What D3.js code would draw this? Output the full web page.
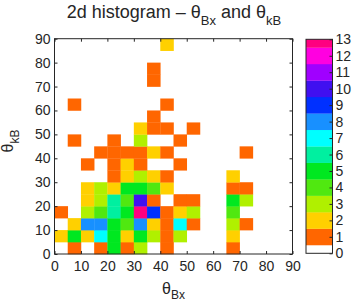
<!DOCTYPE html>
<html><head><meta charset="utf-8">
<script src="https://cdn.jsdelivr.net/npm/d3@7"></script>
<style>body{margin:0;background:#fff}svg{display:block}text{font-family:"Liberation Sans",Arial,sans-serif;fill:#262626}</style>
</head><body>
<script>
// bin edges (degrees)
const xEdges = d3.range(0, 95, 5);   // θBx
const yEdges = d3.range(0, 95, 5);   // θkB
const xTicks = d3.range(0, 100, 10);
const yTicks = d3.range(0, 100, 10);
const cbTicks = d3.range(0, 14);
// counts[row = θkB bin][col = θBx bin]
const counts = [
  [0,1,0,1,5,1,3,0,1,0,0,0,0,1,0,0,0,0],
  [2,5,2,7,5,2,5,3,1,3,0,0,0,2,0,0,0,0],
  [0,2,8,8,5,4,8,2,1,7,1,0,0,3,1,0,0,0],
  [1,0,3,4,6,5,13,9,1,2,3,0,0,4,0,0,0,0],
  [0,0,2,3,6,4,10,1,0,1,1,0,0,5,3,0,0,0],
  [0,0,2,3,2,5,5,4,2,0,0,0,0,1,1,0,0,0],
  [0,0,0,0,1,2,3,2,1,0,0,0,0,2,0,0,0,0],
  [0,0,1,0,1,2,1,0,0,1,0,0,0,0,0,0,0,0],
  [0,0,0,1,1,1,1,2,1,0,0,0,0,0,1,0,0,0],
  [0,1,0,0,1,0,3,0,0,1,0,0,0,0,0,0,0,0],
  [0,0,0,0,0,0,2,1,1,0,1,0,0,0,0,0,0,0],
  [0,0,0,0,0,0,0,1,0,0,0,0,0,0,0,0,0,0],
  [0,1,0,0,0,0,0,0,1,0,0,0,0,0,0,0,0,0],
  [0,0,0,0,0,0,0,0,0,0,0,0,0,0,0,0,0,0],
  [0,0,0,0,0,0,0,1,0,0,0,0,0,0,0,0,0,0],
  [0,0,0,0,0,0,0,1,0,0,0,0,0,0,0,0,0,0],
  [0,0,0,0,0,0,0,0,0,0,0,0,0,0,0,0,0,0],
  [0,0,0,0,0,0,0,0,2,0,0,0,0,0,0,0,0,0]
];
const palette = ["#ffffff","#ff6600","#ffd000","#b0f000","#50e810","#00e820","#00f0a0",
  "#00ffff","#1890ff","#0030ff","#4010f0","#a000ff","#ff00e0","#ff0080"];

const W = 354, H = 303;
const svg = d3.select("body").append("svg").attr("width", W).attr("height", H);
const L = 54.5, R = 292.5, T = 38.7, B = 254;
const x = d3.scaleLinear().domain([0, 90]).range([L, R]);
const y = d3.scaleLinear().domain([0, 90]).range([B, T]);
const color = d3.scaleOrdinal().domain(d3.range(14)).range(palette);

const cells = [];
counts.forEach((row, r) => row.forEach((v, c) => { if (v > 0) cells.push({x0: xEdges[c], x1: xEdges[c+1], y0: yEdges[r], y1: yEdges[r+1], v}); }));
svg.append("g").selectAll("rect").data(cells).join("rect")
  .attr("x", d => x(d.x0)).attr("y", d => y(d.y1))
  .attr("width", d => x(d.x1) - x(d.x0) + 0.3).attr("height", d => y(d.y0) - y(d.y1) + 0.3)
  .attr("fill", d => color(d.v));

const tl = 3;
function styleAxis(g){ g.select(".domain").remove(); g.selectAll("line").attr("stroke","#262626"); g.selectAll("text").style("font-size","14px").attr("fill","#262626"); }
svg.append("g").attr("transform", `translate(0,${B})`)
  .call(d3.axisBottom(x).tickValues(xTicks).tickSizeInner(-tl).tickSizeOuter(0).tickPadding(7))
  .call(styleAxis);
svg.append("g").attr("transform", `translate(0,${T})`)
  .call(d3.axisTop(x).tickValues(xTicks).tickSizeInner(-tl).tickSizeOuter(0).tickFormat(""))
  .call(styleAxis);
svg.append("g").attr("transform", `translate(${L},0)`)
  .call(d3.axisLeft(y).tickValues(yTicks).tickSizeInner(-tl).tickSizeOuter(0).tickPadding(4))
  .call(styleAxis);
svg.append("g").attr("transform", `translate(${R},0)`)
  .call(d3.axisRight(y).tickValues(yTicks).tickSizeInner(-tl).tickSizeOuter(0).tickFormat(""))
  .call(styleAxis);
svg.append("rect").attr("x", L).attr("y", T).attr("width", R - L).attr("height", B - T)
  .attr("fill", "none").attr("stroke", "#262626").attr("stroke-width", 1);

// colorbar
const cL = 306, cR = 332.5, cT = 39.3, cB = 253.3;
const cy = d3.scaleLinear().domain([0, 13]).range([cB, cT]);
svg.append("g").selectAll("rect").data(cbTicks).join("rect")
  .attr("x", cL).attr("width", cR - cL)
  .attr("y", d => cy(Math.min(13, d + 0.5)))
  .attr("height", d => cy(Math.max(0, d - 0.5)) - cy(Math.min(13, d + 0.5)) + 0.2)
  .attr("fill", d => color(d));
svg.append("g").attr("transform", `translate(${cR},0)`)
  .call(d3.axisRight(cy).tickValues(cbTicks).tickSizeInner(-tl).tickSizeOuter(0).tickPadding(3))
  .call(styleAxis);
svg.append("rect").attr("x", cL).attr("y", cT).attr("width", cR - cL).attr("height", cB - cT)
  .attr("fill", "none").attr("stroke", "#262626");

// title
const title = svg.append("text").attr("x", 174).attr("y", 18).attr("text-anchor", "middle").style("font-size", "18px");
title.append("tspan").text("2d histogram – θ");
title.append("tspan").attr("dy", 7).style("font-size", "13px").text("Bx");
title.append("tspan").attr("dy", -7).text(" and θ");
title.append("tspan").attr("dy", 7).style("font-size", "13px").text("kB");

// x label
const xl = svg.append("text").attr("x", 173.5).attr("y", 294).attr("text-anchor", "middle").style("font-size", "16px");
xl.append("tspan").text("θ");
xl.append("tspan").attr("dy", 5).style("font-size", "12px").text("Bx");

// y label
const yl = svg.append("text").attr("transform", `translate(13,141) rotate(-90)`).attr("text-anchor", "middle").style("font-size", "16px");
yl.append("tspan").text("θ");
yl.append("tspan").attr("dy", 6).style("font-size", "12px").text("kB");
</script>
</body></html>
